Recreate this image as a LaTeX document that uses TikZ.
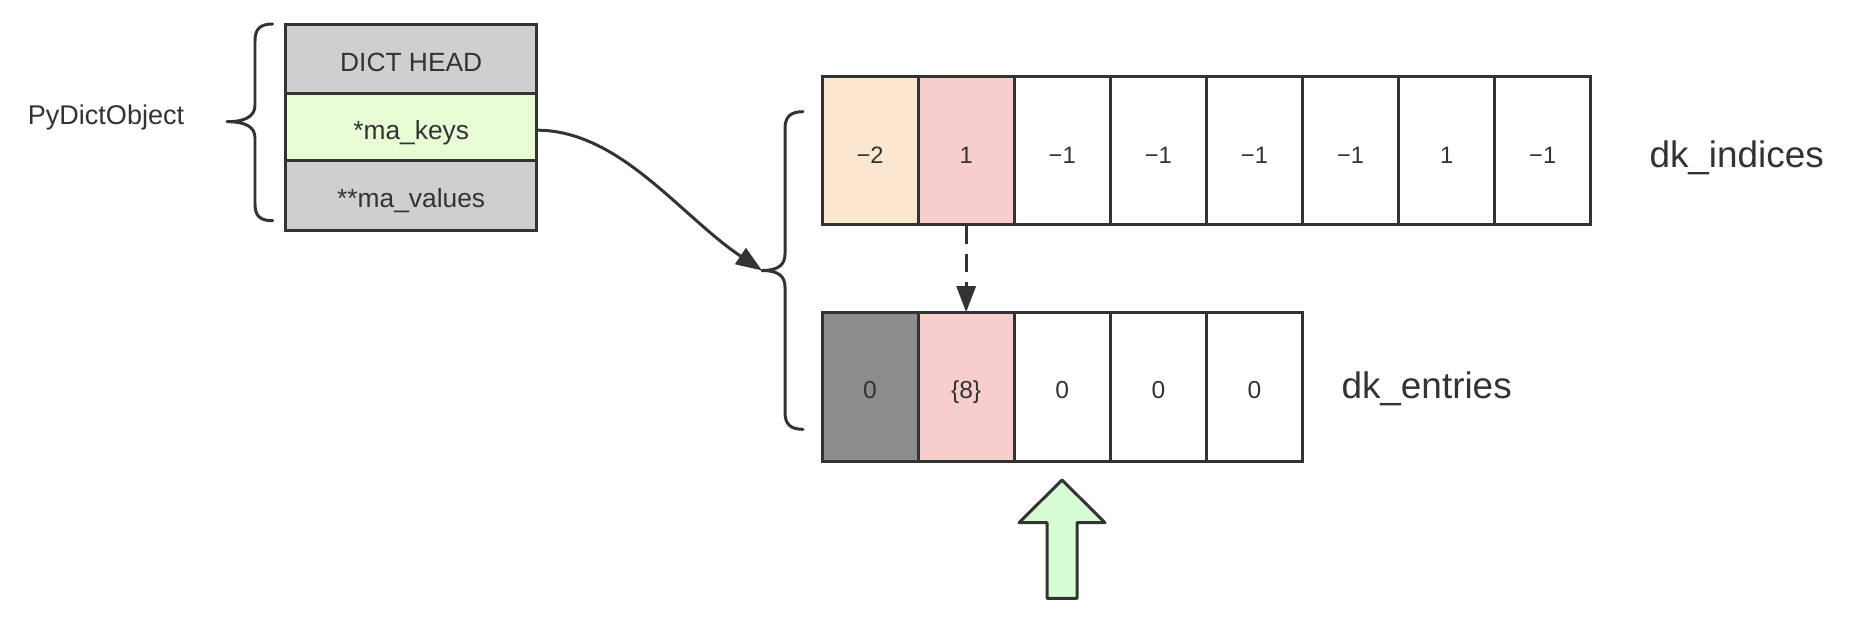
\documentclass[tikz,border=0pt]{standalone}
\usepackage{fontspec}
\setmainfont{Liberation Sans}
\usetikzlibrary{arrows.meta,positioning}
\definecolor{ink}{HTML}{333333}
\definecolor{lgray}{HTML}{CFCFCF}
\definecolor{dgray}{HTML}{8C8C8C}
\definecolor{keysgreen}{HTML}{E8FCD5}
\definecolor{peach}{HTML}{FBE6D0}
\definecolor{pink}{HTML}{F8CECC}
\definecolor{upgreen}{HTML}{D8FCD3}
\begin{document}
\begin{tikzpicture}[x=0.02cm, y=-0.02cm, line width=1.7pt, ink,
  every node/.style={text=ink},
  field/.style={draw=ink, minimum width=5.02cm, outer sep=0pt, inner sep=0pt, text height=14.5pt, text depth=0pt, font=\fontsize{15}{18}\selectfont},
  idx/.style={draw=ink, minimum width=1.922cm, minimum height=2.98cm, outer sep=0pt, inner sep=0pt, text height=15pt, text depth=0pt, font=\fontsize{13.5}{16}\selectfont},
  ent/.style={idx, text height=13pt, font=\fontsize{14}{16}\selectfont},
  lbl/.style={font=\fontsize{21}{25}\selectfont, anchor=west, inner sep=0pt},
  brace/.style={line cap=round, line join=round},
  link/.style={-{Triangle[length=0.52cm, width=0.38cm]}}]
\useasboundingbox (0,0) rectangle (1866,622);
% PyDictObject struct
\node[font=\fontsize{15.4}{18}\selectfont] (obj) at (106,118) {PyDictObject};
\draw[brace] (272.7,24) .. controls (260,24) and (255,29) .. (255,41) -- (255,105) .. controls (255,116) and (246,121.7) .. (227,121.7) .. controls (246,121.7) and (255,127) .. (255,138) -- (255,204) .. controls (255,216) and (260,220.7) .. (272.7,220.7);
\node[field, fill=lgray, minimum height=1.386cm] (head) at (411.2,58.7) {DICT HEAD};
\node[field, fill=keysgreen, minimum height=1.334cm, below=0pt of head] (keys) {*ma\_keys};
\node[field, fill=lgray, minimum height=1.4cm, below=0pt of keys] (vals) {**ma\_values};
% keys object: indices and entries
\draw[brace] (803,111.7) .. controls (790,111.7) and (785,117) .. (785,129) -- (785,254) .. controls (785,265) and (778,270.5) .. (762,270.5) .. controls (778,270.5) and (785,276) .. (785,287) -- (785,412) .. controls (785,424) and (790,429.3) .. (803,429.3);
\coordinate (btip) at (762,270.5);
\foreach \v/\c [count=\i] in {−2/peach, 1/pink, −1/white, −1/white, −1/white, −1/white, 1/white, −1/white}
  \node[idx, fill=\c] (i\i) at ({822+96.1*(\i-0.5)},150.5) {\v};
\foreach \v/\c [count=\i] in {0/dgray, \{8\}/pink, 0/white, 0/white, 0/white}
  \node[ent, fill=\c] (e\i) at ({822+96.1*(\i-0.5)},386.7) {\v};
\node[lbl] (ilbl) at (1648,158) {dk\_indices};
\node[lbl] (elbl) at (1340,389) {dk\_entries};
% pointers
\draw[link] ([yshift=-0.07cm]keys.east) .. controls +(83,0) and +(-82,-55) .. (btip);
\draw[link, dash pattern=on 0.374cm off 0.2cm] (i2.south) -- (e2.north);
% next free slot
\draw[fill=upgreen, line join=round] (1062,480) -- (1105,522.7) -- (1077,522.7) -- (1077,598.3) -- (1047,598.3) -- (1047,522.7) -- (1019,522.7) -- cycle;
\end{tikzpicture}
\end{document}
